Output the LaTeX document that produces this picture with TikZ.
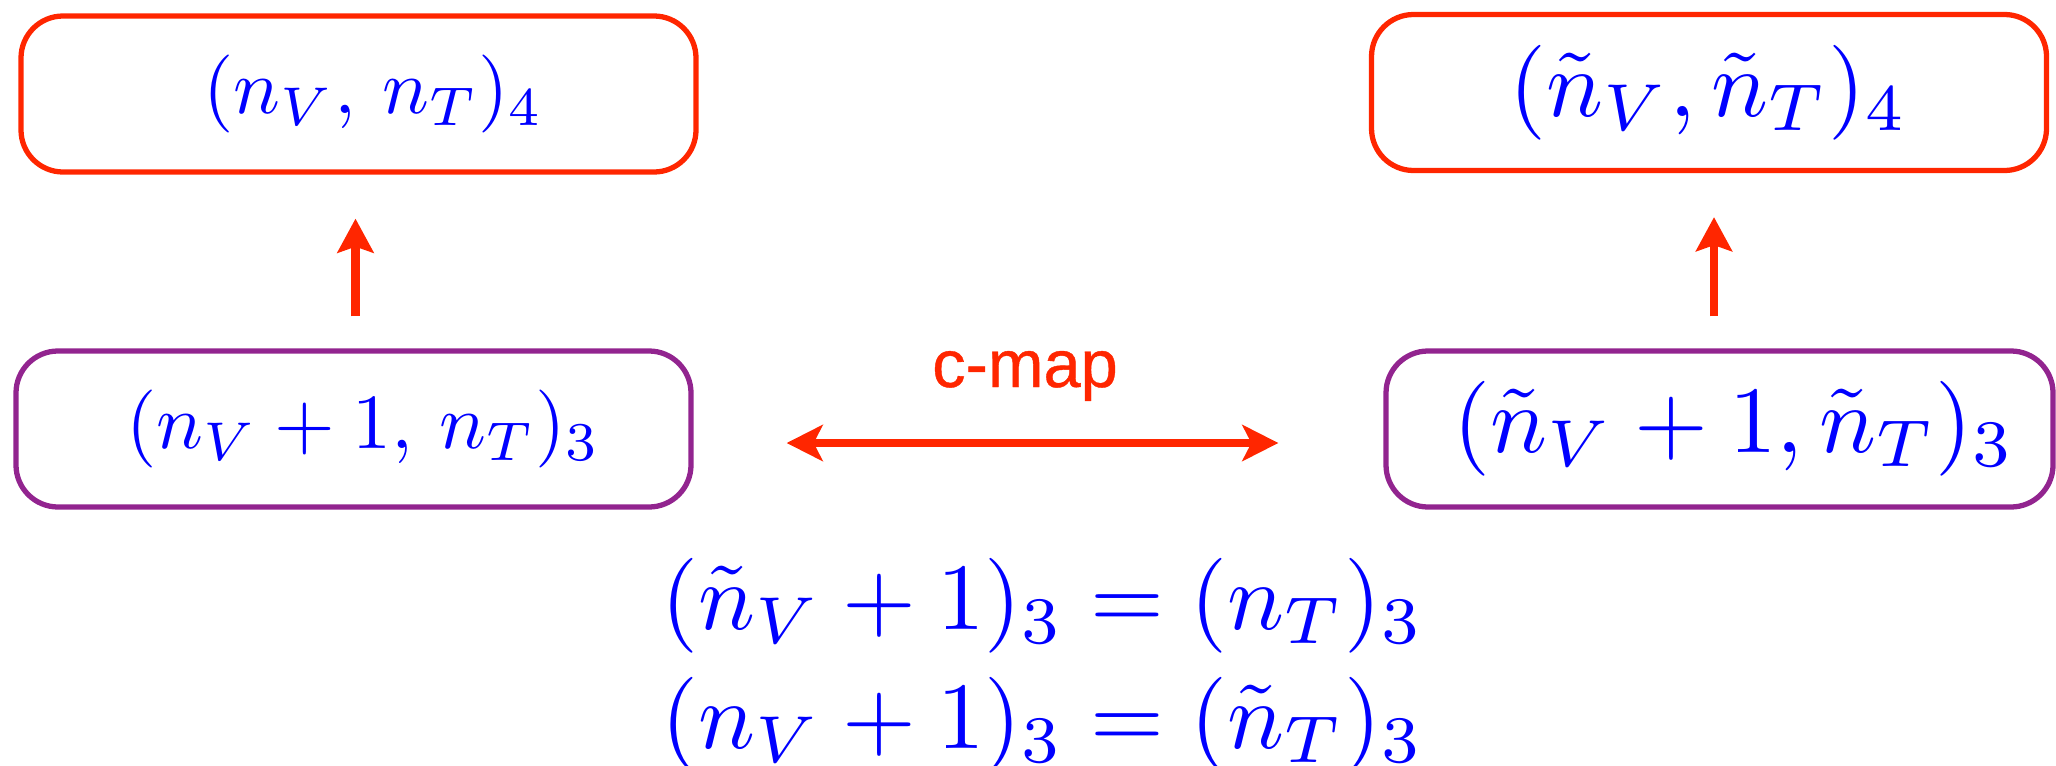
\documentclass[tikz,border=0pt]{standalone}
\usepackage{fontspec}
\newfontfamily\mapfont[FakeBold=0.6]{Liberation Sans}
\usetikzlibrary{arrows.meta, positioning, calc}
\definecolor{boxred}{RGB}{255,38,0}
\definecolor{boxpurple}{RGB}{146,36,143}
\definecolor{mathblue}{RGB}{0,0,255}
\newcommand{\bigmath}[2]{\scalebox{#1}{$#2$}}

\begin{document}
\begin{tikzpicture}[
  state/.style={rectangle, draw=#1, line width=1.5pt, rounded corners=0.42cm,
                text=mathblue, minimum width=6.75cm, minimum height=1.56cm, inner sep=0pt},
  up/.style={-{Stealth[length=3.4mm, width=3.6mm, inset=0.6mm]}, line width=2.3pt, boxred},
  cmap/.style={{Stealth[length=3.6mm, width=3.6mm, inset=0.9mm]}-{Stealth[length=3.6mm, width=3.6mm, inset=0.9mm]},
               line width=2pt, boxred},
]
  \useasboundingbox (0,0) rectangle (20.56,-7.65);

  % Boxes
  \node[state=boxred]    (tl) at (3.585,-0.94) {\hspace{0.3cm}\bigmath{2.22}{(n_V,\,n_T)_4}};
  \node[state=boxred]    (tr) at (17.09,-0.925) {\bigmath{2.7}{(\tilde n_V,\tilde n_T)_4}};
  \node[state=boxpurple] (bl) at (3.535,-4.29) {\hspace{0.2cm}\bigmath{2.22}{(n_V+1,\,n_T)_3}};
  \node[state=boxpurple, minimum width=6.67cm] (br) at (17.195,-4.29) {\hspace{0.3cm}\bigmath{2.7}{(\tilde n_V+1,\tilde n_T)_3}};

  % Arrows
  \draw[up] ($(bl.north)+(0.02,0.32)$) -- ($(bl.north |- tl.south)+(0.02,-0.44)$);
  \draw[up] ($(br.north -| tr.south)+(0.05,0.32)$) -- ($(tr.south)+(0.05,-0.44)$);

  \draw[cmap] ($(bl.east)+(0.93,-0.14)$) -- ($(br.west)+(-1.05,-0.14)$);
  \node[font=\mapfont\fontsize{19}{22}\selectfont, text=boxred, anchor=base] (lbl) at (10.25,-3.87) {c-map};

  % Relations
  \node[text=mathblue, anchor=base] (eqa) at (10.43,-6.29) {\bigmath{2.7}{(\tilde n_V+1)_3=(n_T)_3}};
  \node[text=mathblue, anchor=base] (eqb) at (10.43,-7.48) {\bigmath{2.7}{(n_V+1)_3=(\tilde n_T)_3}};
\end{tikzpicture}
\end{document}
